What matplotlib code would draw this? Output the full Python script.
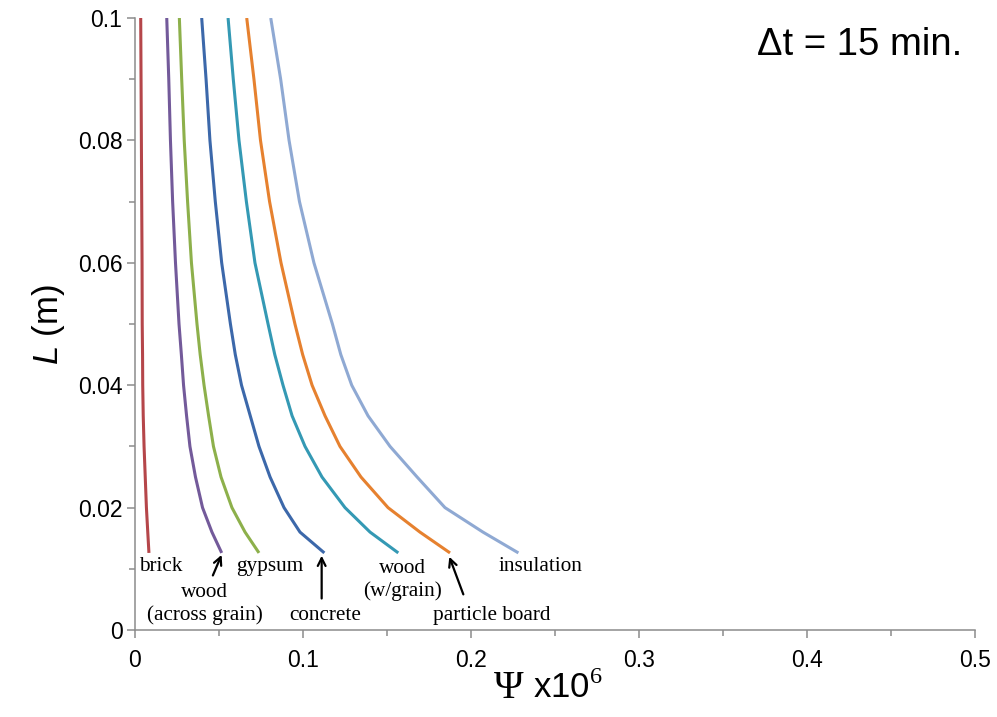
import matplotlib
matplotlib.use('Agg')
import matplotlib.pyplot as plt
from matplotlib.ticker import MultipleLocator

plt.rcParams['font.family'] = ['Liberation Sans', 'DejaVu Sans']
plt.rcParams['mathtext.fontset'] = 'custom'
plt.rcParams['mathtext.rm'] = 'Liberation Serif'
plt.rcParams['mathtext.it'] = 'Liberation Sans:italic'

# thickness L (m) at which the curves were read
L = [0.0126, 0.016, 0.02, 0.025, 0.03, 0.035, 0.04, 0.045, 0.05, 0.06, 0.07, 0.08, 0.09, 0.1]

# Psi x 1e6 for each material
brick = [0.0083, 0.0076, 0.0068, 0.0061, 0.0054, 0.0049, 0.0046, 0.0045, 0.0043, 0.0042, 0.0040, 0.0038, 0.0036, 0.0034]
wood_across = [0.0516, 0.0458, 0.0402, 0.0360, 0.0327, 0.0307, 0.0289, 0.0276, 0.0262, 0.0241, 0.0224, 0.0211, 0.0201, 0.0189]
gypsum = [0.0738, 0.0655, 0.0577, 0.0512, 0.0467, 0.0438, 0.0411, 0.0388, 0.0369, 0.0336, 0.0313, 0.0293, 0.0278, 0.0264]
concrete = [0.1127, 0.0982, 0.0887, 0.0804, 0.0738, 0.0686, 0.0634, 0.0597, 0.0568, 0.0516, 0.0478, 0.0446, 0.0423, 0.0397]
wood_grain = [0.1567, 0.1399, 0.1250, 0.1113, 0.1012, 0.0935, 0.0881, 0.0832, 0.0792, 0.0714, 0.0663, 0.0619, 0.0585, 0.0554]
particle_board = [0.1875, 0.1696, 0.1506, 0.1345, 0.1220, 0.1131, 0.1054, 0.0998, 0.0952, 0.0869, 0.0801, 0.0747, 0.0708, 0.0665]
insulation = [0.2282, 0.2071, 0.1845, 0.1679, 0.1518, 0.1387, 0.1290, 0.1225, 0.1175, 0.1065, 0.0979, 0.0917, 0.0867, 0.0808]

series = [
    (brick, '#B5464A'),
    (wood_across, '#735A9A'),
    (gypsum, '#8DB04B'),
    (concrete, '#3C68AA'),
    (wood_grain, '#3499B4'),
    (particle_board, '#E6812F'),
    (insulation, '#8FA9D3'),
]

fig = plt.figure(figsize=(9.97, 7.17), dpi=100)
ax = fig.add_axes([0.1354, 0.1213, 0.8426, 0.8536])

for psi, color in series:
    ax.plot(psi, L, color=color, lw=2.2, solid_capstyle='butt', solid_joinstyle='round')

ax.set_xlim(0, 0.5)
ax.set_ylim(0, 0.1)
ax.xaxis.set_major_locator(MultipleLocator(0.1))
ax.xaxis.set_minor_locator(MultipleLocator(0.05))
ax.yaxis.set_major_locator(MultipleLocator(0.02))
ax.yaxis.set_minor_locator(MultipleLocator(0.01))
ax.xaxis.set_major_formatter(lambda v, p: '0' if v == 0 else f'{v:g}')
ax.yaxis.set_major_formatter(lambda v, p: '0' if v == 0 else f'{v:g}')

for s in ['top', 'right']:
    ax.spines[s].set_visible(False)
for s in ['left', 'bottom']:
    ax.spines[s].set_color('#8C8C8C')
    ax.spines[s].set_linewidth(1.1)
ax.tick_params(which='both', direction='out', color='#8C8C8C', width=1.1)
ax.tick_params(which='major', length=6, labelsize=16.5, pad=3)
ax.tick_params(which='minor', length=4)
ax.tick_params(axis='x', which='major', pad=8)

ax.set_ylabel(r'$\mathit{L}$ (m)', fontsize=25, labelpad=8)

# x label: large serif Psi followed by the scale factor
fig.text(0.5105, 0.0404, 'Ψ', fontsize=29, family='Liberation Serif', ha='center', va='center')
fig.text(0.5346, 0.0404, r'x10$^{6}$', fontsize=25, ha='left', va='center')

ax.text(0.370, 0.0956, 'Δt = 15 min.', fontsize=27.5, ha='left', va='center')

serif = 'Liberation Serif'
lab = dict(fontsize=15.3, family=serif, ha='center', va='center')
ax.text(0.0152, 0.0103, 'brick', **lab)
ax.text(0.0415, 0.0042, 'wood\n(across grain)', linespacing=1.2, **lab)
ax.text(0.0804, 0.0103, 'gypsum', **lab)
ax.text(0.1131, 0.0023, 'concrete', **lab)
ax.text(0.1590, 0.0082, 'wood\n(w/grain)', linespacing=1.2, **lab)
ax.text(0.2125, 0.0023, 'particle board', **lab)
ax.text(0.2413, 0.0103, 'insulation', **lab)

arrow = dict(arrowstyle='->', color='black', lw=1.6, mutation_scale=14)
ax.annotate('', xy=(0.0522, 0.0127), xytext=(0.0457, 0.0085), arrowprops=arrow)
ax.annotate('', xy=(0.1111, 0.0126), xytext=(0.1111, 0.0047), arrowprops=arrow)
ax.annotate('', xy=(0.1865, 0.0124), xytext=(0.1960, 0.0054), arrowprops=arrow)

fig.savefig('out.png', dpi=100)
